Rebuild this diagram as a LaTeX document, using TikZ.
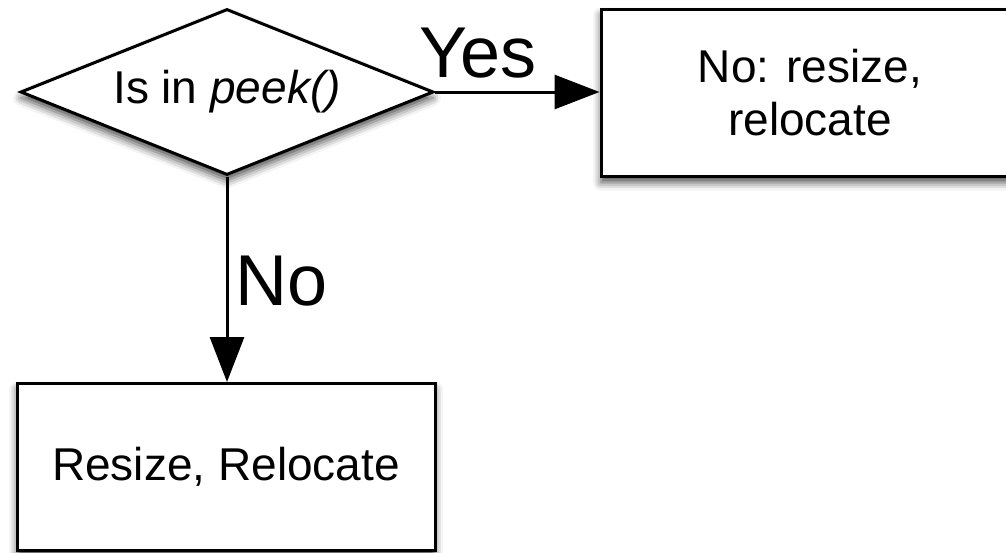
\documentclass[tikz,border=0pt]{standalone}
\usepackage{fontspec}
\setmainfont{Liberation Sans}
\usetikzlibrary{shapes.geometric,arrows.meta,shadows.blur}
\begin{document}
\begin{tikzpicture}[x=1pt,y=-1pt,
  boxfont/.style={font=\fontsize{46}{53}\selectfont},
  softshadow/.style={blur shadow={shadow xshift=0pt,shadow yshift=-6pt,shadow blur radius=8pt,shadow opacity=70}},
  decision/.style={diamond,draw,line width=3pt,fill=white,inner sep=0pt,
    minimum width=413pt,minimum height=166pt,aspect=2.49,boxfont,softshadow},
  action/.style={rectangle,draw,line width=3pt,fill=white,inner sep=0pt,
    minimum width=418pt,minimum height=167pt,boxfont,align=center,softshadow},
  flow/.style={line width=3pt,-{Triangle[length=45pt,width=34pt]}},
  branch/.style={font=\fontsize{72}{80}\selectfont,inner sep=0pt}]
\clip (0,0) rectangle (1006,552);
\node[decision] (test) at (227,92) {Is in \textit{peek()}};
\node[action] (keep) at (810,93) {No: resize,\\relocate};
\node[action] (move) at (226,467) {Resize, Relocate};
\draw[flow] (test.east) -- node[branch,pos=0.26,anchor=base,yshift=15pt] {Yes} (test.east -| keep.west);
\draw[flow] (test.south) -- node[branch,pos=0.63,anchor=base west,xshift=7pt] {No} (test.south |- move.north);
\end{tikzpicture}
\end{document}
